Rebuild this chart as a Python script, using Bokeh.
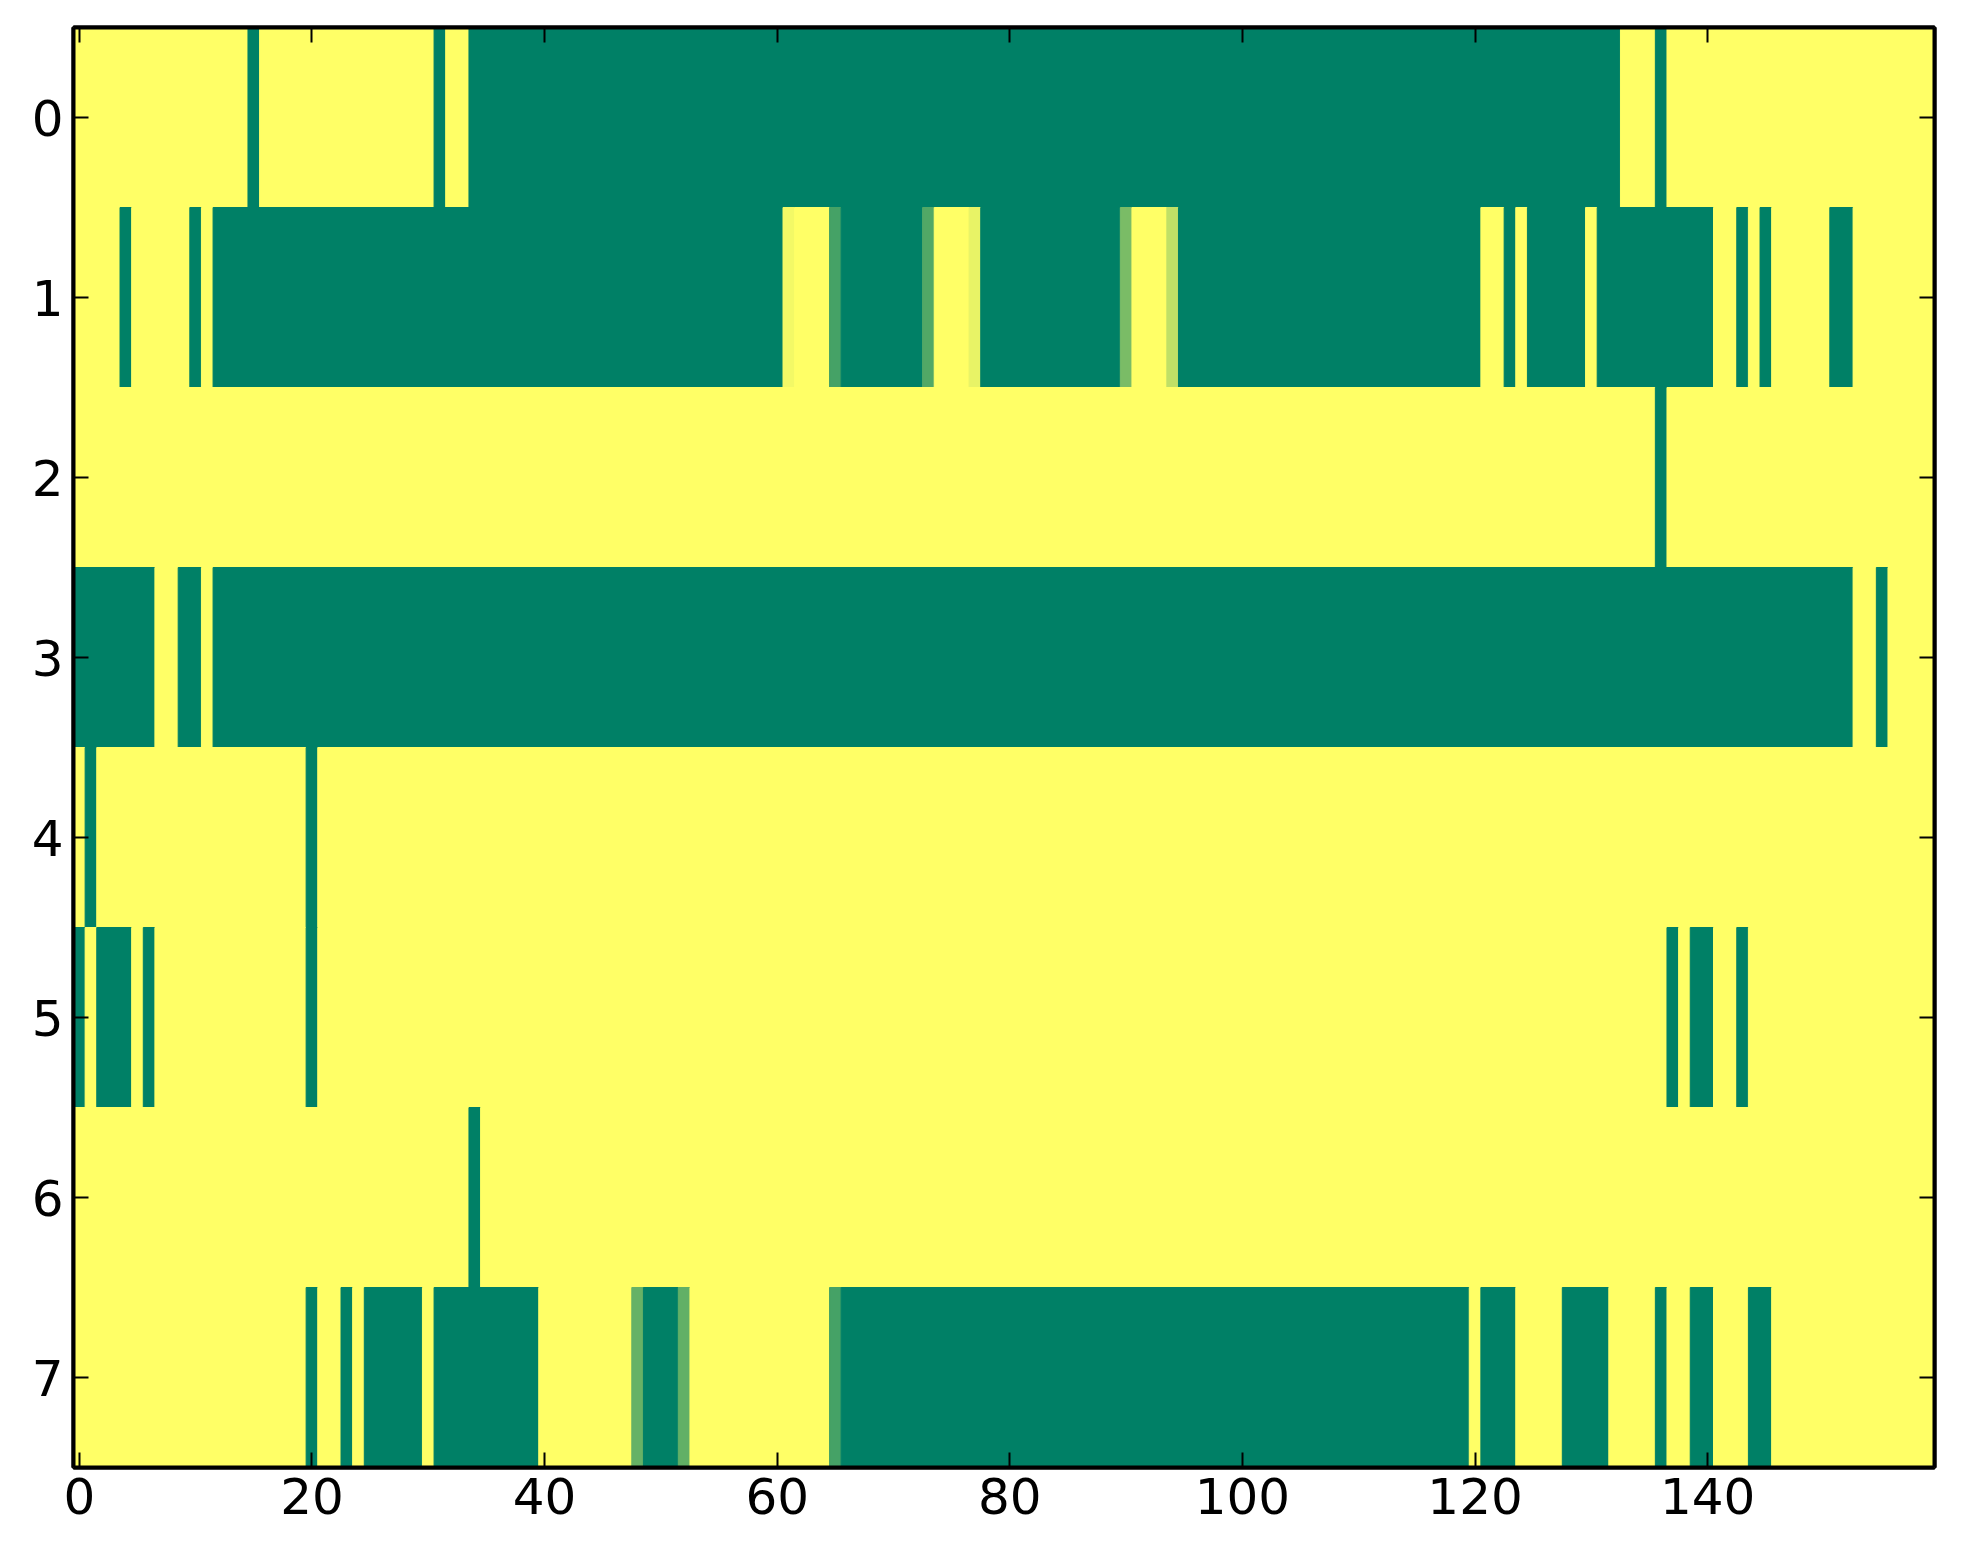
from bokeh.plotting import figure
from bokeh.models import ColumnDataSource, Range1d, FixedTicker, LinearAxis
from bokeh.transform import linear_cmap
from bokeh.embed import file_html
from bokeh.resources import INLINE

# ---- data: one list per row (160 columns each), 1 = high value, 0 = low value ----
row_0 = [1, 1, 1, 1, 1, 1, 1, 1, 1, 1, 1, 1, 1, 1, 1, 0, 1, 1, 1, 1,
         1, 1, 1, 1, 1, 1, 1, 1, 1, 1, 1, 0, 1, 1, 0, 0, 0, 0, 0, 0,
         0, 0, 0, 0, 0, 0, 0, 0, 0, 0, 0, 0, 0, 0, 0, 0, 0, 0, 0, 0,
         0, 0, 0, 0, 0, 0, 0, 0, 0, 0, 0, 0, 0, 0, 0, 0, 0, 0, 0, 0,
         0, 0, 0, 0, 0, 0, 0, 0, 0, 0, 0, 0, 0, 0, 0, 0, 0, 0, 0, 0,
         0, 0, 0, 0, 0, 0, 0, 0, 0, 0, 0, 0, 0, 0, 0, 0, 0, 0, 0, 0,
         0, 0, 0, 0, 0, 0, 0, 0, 0, 0, 0, 0, 0, 1, 1, 1, 0, 1, 1, 1,
         1, 1, 1, 1, 1, 1, 1, 1, 1, 1, 1, 1, 1, 1, 1, 1, 1, 1, 1, 1]
row_1 = [1, 1, 1, 1, 0, 1, 1, 1, 1, 1, 0, 1, 0, 0, 0, 0, 0, 0, 0, 0,
         0, 0, 0, 0, 0, 0, 0, 0, 0, 0, 0, 0, 0, 0, 0, 0, 0, 0, 0, 0,
         0, 0, 0, 0, 0, 0, 0, 0, 0, 0, 0, 0, 0, 0, 0, 0, 0, 0, 0, 0,
         0, 0.95, 1, 1, 1, 0.27, 0, 0, 0, 0, 0, 0, 0, 0.32, 1, 1, 1, 0.91, 0, 0,
         0, 0, 0, 0, 0, 0, 0, 0, 0, 0, 0.48, 1, 1, 1, 0.75, 0, 0, 0, 0, 0,
         0, 0, 0, 0, 0, 0, 0, 0, 0, 0, 0, 0, 0, 0, 0, 0, 0, 0, 0, 0,
         0, 1, 1, 0, 1, 0, 0, 0, 0, 0, 1, 0, 0, 0, 0, 0, 0, 0, 0, 0,
         0, 1, 1, 0, 1, 0, 1, 1, 1, 1, 1, 0, 0, 1, 1, 1, 1, 1, 1, 1]
row_2 = [1, 1, 1, 1, 1, 1, 1, 1, 1, 1, 1, 1, 1, 1, 1, 1, 1, 1, 1, 1,
         1, 1, 1, 1, 1, 1, 1, 1, 1, 1, 1, 1, 1, 1, 1, 1, 1, 1, 1, 1,
         1, 1, 1, 1, 1, 1, 1, 1, 1, 1, 1, 1, 1, 1, 1, 1, 1, 1, 1, 1,
         1, 1, 1, 1, 1, 1, 1, 1, 1, 1, 1, 1, 1, 1, 1, 1, 1, 1, 1, 1,
         1, 1, 1, 1, 1, 1, 1, 1, 1, 1, 1, 1, 1, 1, 1, 1, 1, 1, 1, 1,
         1, 1, 1, 1, 1, 1, 1, 1, 1, 1, 1, 1, 1, 1, 1, 1, 1, 1, 1, 1,
         1, 1, 1, 1, 1, 1, 1, 1, 1, 1, 1, 1, 1, 1, 1, 1, 0, 1, 1, 1,
         1, 1, 1, 1, 1, 1, 1, 1, 1, 1, 1, 1, 1, 1, 1, 1, 1, 1, 1, 1]
row_3 = [0, 0, 0, 0, 0, 0, 0, 1, 1, 0, 0, 1, 0, 0, 0, 0, 0, 0, 0, 0,
         0, 0, 0, 0, 0, 0, 0, 0, 0, 0, 0, 0, 0, 0, 0, 0, 0, 0, 0, 0,
         0, 0, 0, 0, 0, 0, 0, 0, 0, 0, 0, 0, 0, 0, 0, 0, 0, 0, 0, 0,
         0, 0, 0, 0, 0, 0, 0, 0, 0, 0, 0, 0, 0, 0, 0, 0, 0, 0, 0, 0,
         0, 0, 0, 0, 0, 0, 0, 0, 0, 0, 0, 0, 0, 0, 0, 0, 0, 0, 0, 0,
         0, 0, 0, 0, 0, 0, 0, 0, 0, 0, 0, 0, 0, 0, 0, 0, 0, 0, 0, 0,
         0, 0, 0, 0, 0, 0, 0, 0, 0, 0, 0, 0, 0, 0, 0, 0, 0, 0, 0, 0,
         0, 0, 0, 0, 0, 0, 0, 0, 0, 0, 0, 0, 0, 1, 1, 0, 1, 1, 1, 1]
row_4 = [1, 0, 1, 1, 1, 1, 1, 1, 1, 1, 1, 1, 1, 1, 1, 1, 1, 1, 1, 1,
         0, 1, 1, 1, 1, 1, 1, 1, 1, 1, 1, 1, 1, 1, 1, 1, 1, 1, 1, 1,
         1, 1, 1, 1, 1, 1, 1, 1, 1, 1, 1, 1, 1, 1, 1, 1, 1, 1, 1, 1,
         1, 1, 1, 1, 1, 1, 1, 1, 1, 1, 1, 1, 1, 1, 1, 1, 1, 1, 1, 1,
         1, 1, 1, 1, 1, 1, 1, 1, 1, 1, 1, 1, 1, 1, 1, 1, 1, 1, 1, 1,
         1, 1, 1, 1, 1, 1, 1, 1, 1, 1, 1, 1, 1, 1, 1, 1, 1, 1, 1, 1,
         1, 1, 1, 1, 1, 1, 1, 1, 1, 1, 1, 1, 1, 1, 1, 1, 1, 1, 1, 1,
         1, 1, 1, 1, 1, 1, 1, 1, 1, 1, 1, 1, 1, 1, 1, 1, 1, 1, 1, 1]
row_5 = [0, 1, 0, 0, 0, 1, 0, 1, 1, 1, 1, 1, 1, 1, 1, 1, 1, 1, 1, 1,
         0, 1, 1, 1, 1, 1, 1, 1, 1, 1, 1, 1, 1, 1, 1, 1, 1, 1, 1, 1,
         1, 1, 1, 1, 1, 1, 1, 1, 1, 1, 1, 1, 1, 1, 1, 1, 1, 1, 1, 1,
         1, 1, 1, 1, 1, 1, 1, 1, 1, 1, 1, 1, 1, 1, 1, 1, 1, 1, 1, 1,
         1, 1, 1, 1, 1, 1, 1, 1, 1, 1, 1, 1, 1, 1, 1, 1, 1, 1, 1, 1,
         1, 1, 1, 1, 1, 1, 1, 1, 1, 1, 1, 1, 1, 1, 1, 1, 1, 1, 1, 1,
         1, 1, 1, 1, 1, 1, 1, 1, 1, 1, 1, 1, 1, 1, 1, 1, 1, 0, 1, 0,
         0, 1, 1, 0, 1, 1, 1, 1, 1, 1, 1, 1, 1, 1, 1, 1, 1, 1, 1, 1]
row_6 = [1, 1, 1, 1, 1, 1, 1, 1, 1, 1, 1, 1, 1, 1, 1, 1, 1, 1, 1, 1,
         1, 1, 1, 1, 1, 1, 1, 1, 1, 1, 1, 1, 1, 1, 0, 1, 1, 1, 1, 1,
         1, 1, 1, 1, 1, 1, 1, 1, 1, 1, 1, 1, 1, 1, 1, 1, 1, 1, 1, 1,
         1, 1, 1, 1, 1, 1, 1, 1, 1, 1, 1, 1, 1, 1, 1, 1, 1, 1, 1, 1,
         1, 1, 1, 1, 1, 1, 1, 1, 1, 1, 1, 1, 1, 1, 1, 1, 1, 1, 1, 1,
         1, 1, 1, 1, 1, 1, 1, 1, 1, 1, 1, 1, 1, 1, 1, 1, 1, 1, 1, 1,
         1, 1, 1, 1, 1, 1, 1, 1, 1, 1, 1, 1, 1, 1, 1, 1, 1, 1, 1, 1,
         1, 1, 1, 1, 1, 1, 1, 1, 1, 1, 1, 1, 1, 1, 1, 1, 1, 1, 1, 1]
row_7 = [1, 1, 1, 1, 1, 1, 1, 1, 1, 1, 1, 1, 1, 1, 1, 1, 1, 1, 1, 1,
         0, 1, 1, 0, 1, 0, 0, 0, 0, 0, 1, 0, 0, 0, 0, 0, 0, 0, 0, 0,
         1, 1, 1, 1, 1, 1, 1, 1, 0.40, 0, 0, 0, 0.38, 1, 1, 1, 1, 1, 1, 1,
         1, 1, 1, 1, 1, 0.27, 0, 0, 0, 0, 0, 0, 0, 0, 0, 0, 0, 0, 0, 0,
         0, 0, 0, 0, 0, 0, 0, 0, 0, 0, 0, 0, 0, 0, 0, 0, 0, 0, 0, 0,
         0, 0, 0, 0, 0, 0, 0, 0, 0, 0, 0, 0, 0, 0, 0, 0, 0, 0, 0, 0,
         1, 0, 0, 0, 1, 1, 1, 1, 0, 0, 0, 0, 1, 1, 1, 1, 0, 1, 1, 0,
         0, 1, 1, 1, 0, 0, 1, 1, 1, 1, 1, 1, 1, 1, 1, 1, 1, 1, 1, 1]

rows = [row_0, row_1, row_2, row_3, row_4, row_5, row_6, row_7]
x_ticks = [0, 20, 40, 60, 80, 100, 120, 140]
y_ticks = [0, 1, 2, 3, 4, 5, 6, 7]

# ---- "summer" colormap palette ----
def _hex(r, g, b):
    return "#%02x%02x%02x" % (int(round(r * 255)), int(round(g * 255)), int(round(b * 255)))

summer = [_hex(i / 255, 0.5 + 0.5 * i / 255, 0.4) for i in range(256)]

# ---- build cells (merging equal neighbours in a row to avoid seams) ----
left, right, top, bottom, val = [], [], [], [], []
for r, row in enumerate(rows):
    start = 0
    for c in range(1, len(row) + 1):
        if c == len(row) or row[c] != row[start]:
            left.append(start - 0.5)
            right.append(c - 0.5)
            top.append(r - 0.5)
            bottom.append(r + 0.5)
            val.append(row[start])
            start = c

src = ColumnDataSource(dict(left=left, right=right, top=top, bottom=bottom, v=val))

ncols = len(row_0)
nrows = len(rows)

p = figure(frame_width=1861, frame_height=1440,
           x_range=Range1d(-0.5, ncols - 0.5), y_range=Range1d(nrows - 0.5, -0.5),
           output_backend="svg", toolbar_location=None,
           min_border_left=73, min_border_top=27, min_border_right=21, min_border_bottom=80,
           background_fill_color="white", border_fill_color="white")

cmap = linear_cmap("v", summer, 0, 1)
p.quad(left="left", right="right", top="top", bottom="bottom", source=src,
       fill_color=cmap, line_color=cmap, line_width=1)

p.xgrid.visible = False
p.ygrid.visible = False
p.outline_line_color = "black"
p.outline_line_width = 4
p.outline_line_alpha = 1.0

FONT = "DejaVu Sans"

def style_axis(ax, ticks, show_labels, standoff):
    ax.ticker = FixedTicker(ticks=ticks)
    ax.axis_line_color = "black"
    ax.axis_line_width = 4
    ax.major_tick_in = 15
    ax.major_tick_out = 0
    ax.major_tick_line_color = "black"
    ax.major_tick_line_width = 2
    ax.minor_tick_line_color = None
    ax.major_label_text_font = FONT
    if show_labels:
        ax.major_label_text_color = "black"
        ax.major_label_text_font_size = "50px"
        ax.major_label_standoff = standoff
    else:
        ax.major_label_text_color = None
        ax.major_label_text_font_size = "8px"
        ax.major_label_standoff = 0

style_axis(p.xaxis[0], x_ticks, True, 10)
style_axis(p.yaxis[0], y_ticks, True, 10)

top_axis = LinearAxis()
style_axis(top_axis, x_ticks, False, 0)
p.add_layout(top_axis, "above")
right_axis = LinearAxis()
style_axis(right_axis, y_ticks, False, 0)
p.add_layout(right_axis, "right")

with open("out.html", "w") as f:
    f.write(file_html(p, INLINE))
